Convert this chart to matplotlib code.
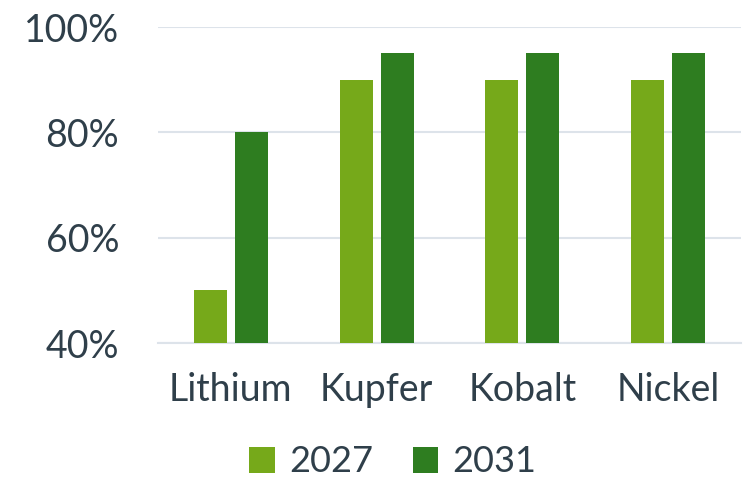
import matplotlib
matplotlib.use('Agg')
import matplotlib.pyplot as plt
import numpy as np
from matplotlib.ticker import FuncFormatter

plt.rcParams['font.family'] = ['Lato', 'DejaVu Sans']

categories = ['Lithium', 'Kupfer', 'Kobalt', 'Nickel']
years = ['2027', '2031']
v2027 = [50, 90, 90, 90]
v2031 = [80, 95, 95, 95]

col_light = '#76A91A'
col_dark = '#2E7D20'
txt = '#2F3F4A'

fig = plt.figure(figsize=(7.47, 4.83), dpi=100)
ax = fig.add_axes([158/747, 1-343/483, 583/747, 316/483])

x = np.arange(len(categories))
w = 0.226
off = 0.141
ax.bar(x - off, np.array(v2027) - 40, w, bottom=40, color=col_light, label=years[0], zorder=3)
ax.bar(x + off, np.array(v2031) - 40, w, bottom=40, color=col_dark, label=years[1], zorder=3)

ax.set_xlim(-0.5, 3.5)
ax.set_ylim(40, 100)
ax.set_yticks([40, 60, 80, 100])
ax.yaxis.set_major_formatter(FuncFormatter(lambda v, p: f'{v:.0f}%'))
ax.grid(axis='y', color='#DDE3EA', lw=1.5, zorder=0)
for s in ['top', 'right', 'left']:
    ax.spines[s].set_visible(False)
ax.spines['bottom'].set_color('#DDE3EA')
ax.spines['bottom'].set_linewidth(1.5)
ax.set_xticks(x)
ax.set_xticklabels(categories)
ax.tick_params(axis='both', length=0, labelsize=27, colors=txt)
ax.tick_params(axis='y', pad=28)
ax.tick_params(axis='x', pad=21)

leg = ax.legend(loc='center', bbox_to_anchor=(393/747, 1-462/483), bbox_transform=fig.transFigure,
                ncol=2, frameon=False, fontsize=26, handlelength=0.7, handleheight=0.7,
                handletextpad=0.4, columnspacing=1.1, labelcolor=txt,
                borderpad=0.1)

fig.savefig('out.png', dpi=100)
